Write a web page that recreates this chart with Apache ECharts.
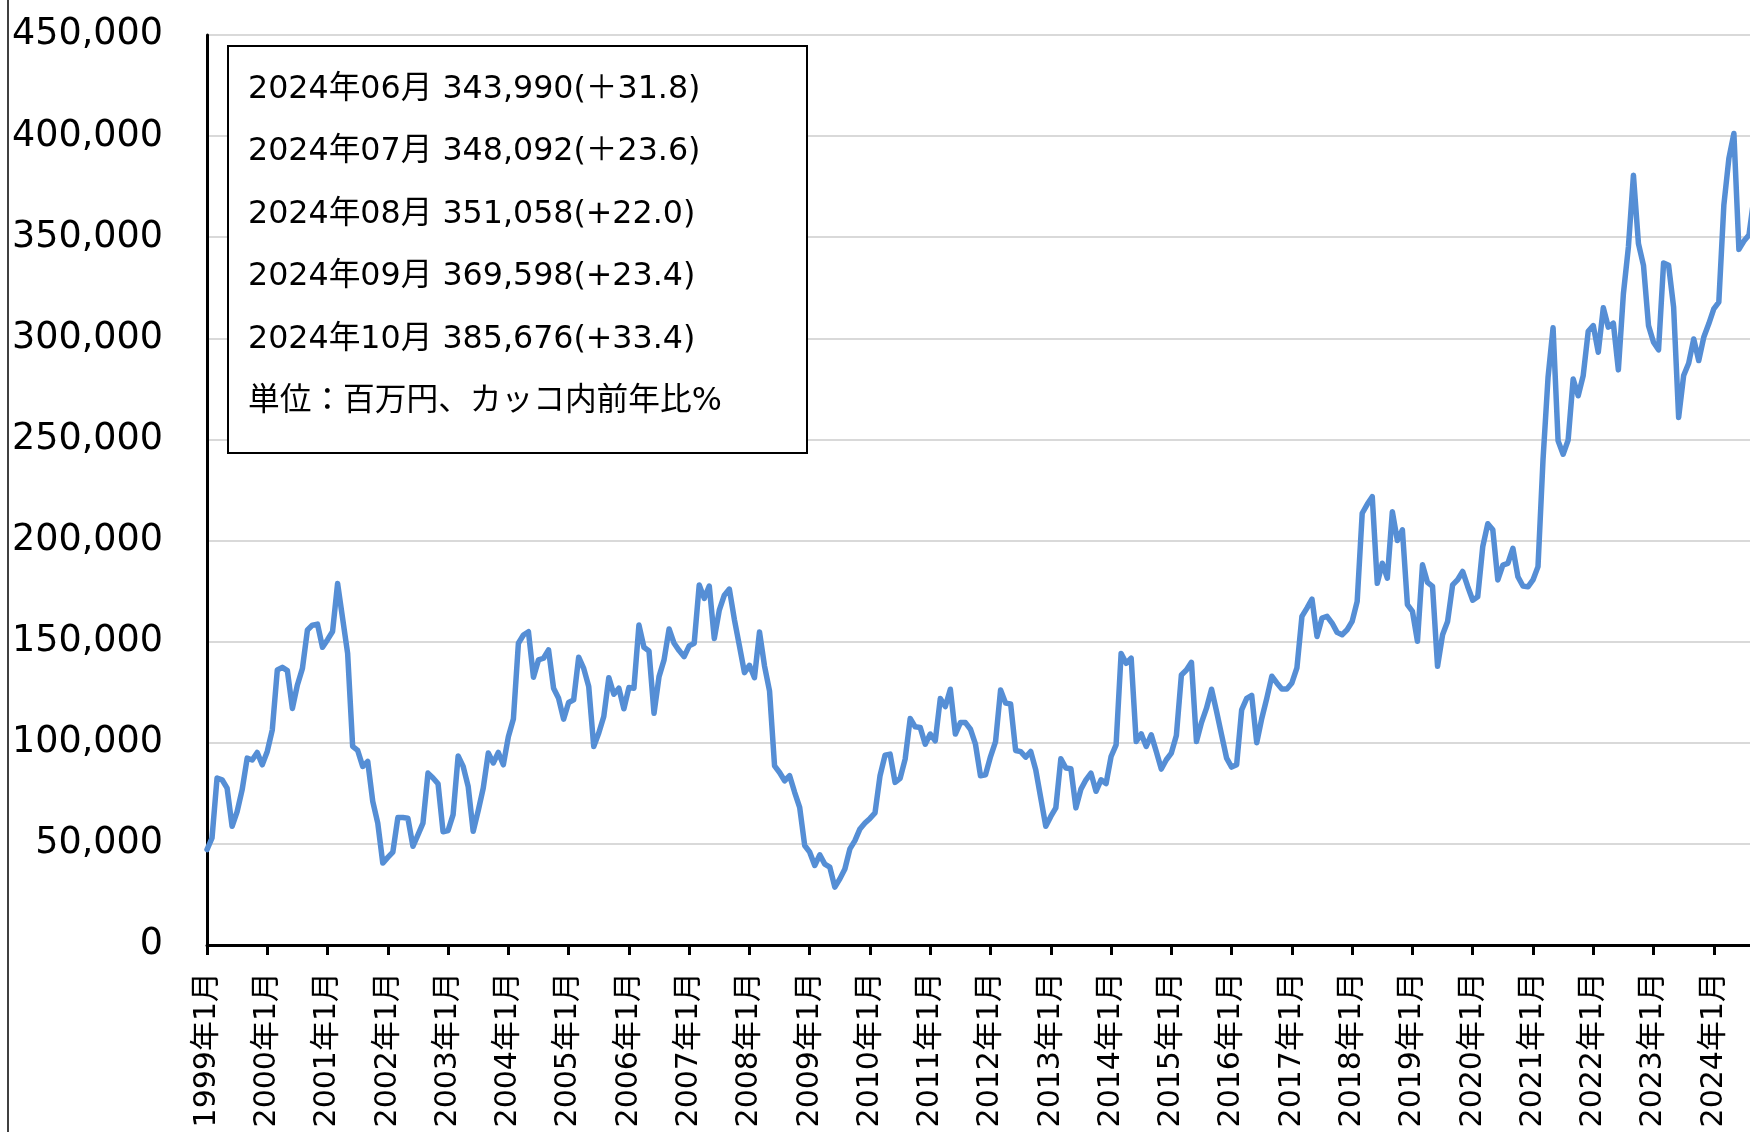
<!doctype html>
<html lang="ja">

<head>
    <meta charset="utf-8">
    <title>月次推移</title>
    <script src="https://cdn.jsdelivr.net/npm/echarts@6/dist/echarts.min.js"></script>
    <style type="text/css">
        html, body {
            margin: 0;
            padding: 0;
            background: #fff;
        }

        #chart_main {
            width: 1750px;
            height: 1132px;
        }
    </style>
</head>

<body>
    <div id="chart_main"></div>
    <script>
        // 月次の値 (百万円), 1999年1月 から 2024年10月 まで, 1行 = 1年
        let monthly_values = [
            47200, 52900, 82600, 81700, 77600, 58700, 66000, 76800, 92400, 91500, 95200, 89100,
            95700, 106400, 136000, 137300, 135700, 117000, 128600, 136800, 155800, 158200, 158700, 147200,
            151000, 155000, 178800, 161500, 144200, 98200, 96200, 88300, 90800, 71000, 60300, 40500,
            43300, 45900, 63000, 63000, 62700, 48800, 54500, 60300, 85000, 82600, 79700, 56000,
            56600, 64500, 93500, 88300, 78400, 56200, 66500, 77600, 94900, 90000, 95200, 89100,
            103000, 111700, 149200, 153300, 154900, 132400, 141000, 141800, 145900, 127000, 122000, 111700,
            119900, 121200, 142300, 136800, 127800, 98200, 104800, 113000, 132200, 124000, 127000, 116800,
            127300, 127000, 158200, 147200, 145400, 114600, 132700, 141000, 156300, 149200, 145600, 142600,
            147900, 149200, 178000, 171400, 177500, 151600, 165600, 173000, 176000, 161000, 148000, 134700,
            138300, 132200, 154800, 138000, 125600, 88600, 85300, 81200, 83700, 75500, 68100, 49200,
            45900, 39300, 44600, 40000, 38500, 28600, 32700, 37600, 47500, 51600, 57400, 60300,
            62600, 65300, 83700, 93900, 94400, 80400, 82400, 91900, 112000, 107900, 107600, 99300,
            104300, 101000, 121900, 117900, 126500, 104300, 110000, 110000, 106700, 99300, 83700, 84200,
            93200, 100600, 126100, 119600, 119200, 96200, 95600, 92900, 95700, 86700, 72700, 58700,
            63600, 67800, 92100, 87500, 87200, 67800, 77100, 81700, 85000, 76000, 81700, 79800,
            93200, 99000, 144200, 139300, 141800, 100600, 104400, 98200, 103900, 95700, 87000, 91600,
            94900, 103600, 133500, 136000, 139800, 100600, 110000, 117100, 126500, 115500, 103900, 92400,
            88000, 89100, 116300, 122000, 123400, 100000, 112000, 122000, 132900, 129600, 126600, 126600,
            129600, 137000, 162500, 166600, 171000, 152600, 161700, 162500, 159200, 154600, 153400, 155900,
            160000, 169900, 213500, 217900, 221700, 178900, 188800, 181400, 214300, 200000, 205300, 168300,
            165000, 150200, 188000, 179300, 177300, 137800, 153400, 160000, 178100, 180600, 184700, 177300,
            170500, 172200, 197000, 208300, 205300, 180500, 187900, 188700, 196200, 182100, 177500, 177100,
            180500, 187100, 240000, 280700, 305200, 249300, 242700, 249700, 279900, 271600, 281600, 303500,
            306300, 293100, 315100, 305500, 307500, 284400, 322000, 345200, 380700, 346800, 336100, 306300,
            298100, 294300, 337200, 336100, 315400, 260900, 281600, 287700, 299700, 289000, 300500, 307200,
            314600, 317900, 365800, 388900, 401300, 343990, 348092, 351058, 369598, 385676
        ];

        let first_year = 1999;
        let y_ticks = [0, 50000, 100000, 150000, 200000, 250000, 300000, 350000, 400000, 450000];

        let note_lines = [
            '2024年06月 343,990(＋31.8)',
            '2024年07月 348,092(＋23.6)',
            '2024年08月 351,058(+22.0)',
            '2024年09月 369,598(+23.4)',
            '2024年10月 385,676(+33.4)',
            '単位：百万円、カッコ内前年比%'
        ];

        let font_family = "'DejaVu Sans', 'Noto Sans CJK JP', sans-serif";

        function draw_chart() {
            let myChart = echarts.init(document.getElementById('chart_main'));

            let months = [];
            for (let i = 0; i < monthly_values.length; ++i) {
                let y = first_year + Math.floor(i / 12);
                let m = (i % 12) + 1;
                months.push(y + '年' + m + '月');
            }

            let graphics = [
                // 左端の枠線
                {
                    type: 'line',
                    shape: { x1: 8, y1: 0, x2: 8, y2: 1132 },
                    style: { stroke: '#404040', lineWidth: 2 },
                    z: 10
                },
                {
                    type: 'rect',
                    shape: { x: 228, y: 46, width: 579, height: 407 },
                    style: { fill: '#fff', stroke: '#000', lineWidth: 2 },
                    z: 10
                }
            ];
            for (let k = 0; k < note_lines.length; ++k) {
                graphics.push({
                    type: 'text',
                    x: 248,
                    y: 89.5 + k * 62.5,
                    style: {
                        text: note_lines[k],
                        fontSize: 31.7,
                        fontFamily: font_family,
                        fill: '#000',
                        verticalAlign: 'middle'
                    },
                    z: 11
                });
            }

            let option = {
                animation: false,
                backgroundColor: '#fff',
                grid: {
                    left: 207,
                    right: -9,
                    top: 35,
                    bottom: 187,
                    outerBoundsMode: 'none',
                    containLabel: false
                },
                xAxis: {
                    type: 'category',
                    data: months,
                    boundaryGap: false,
                    axisLine: { lineStyle: { color: '#000', width: 3 } },
                    axisTick: {
                        interval: 11,
                        length: 10,
                        lineStyle: { color: '#000', width: 3 }
                    },
                    axisLabel: {
                        interval: 11,
                        rotate: 90,
                        margin: 27,
                        color: '#000',
                        fontSize: 30,
                        fontFamily: font_family
                    },
                    splitLine: { show: false }
                },
                yAxis: {
                    type: 'value',
                    min: y_ticks[0],
                    max: y_ticks[y_ticks.length - 1],
                    interval: y_ticks[1] - y_ticks[0],
                    axisLine: { show: true, lineStyle: { color: '#000', width: 3 } },
                    axisTick: { show: false },
                    axisLabel: {
                        margin: 44,
                        color: '#000',
                        fontSize: 36.5,
                        fontFamily: font_family,
                        padding: [0, 0, 12, 0],
                        formatter: function (v) {
                            return v.toLocaleString('en-US');
                        }
                    },
                    splitLine: { lineStyle: { color: '#d9d9d9', width: 2 } }
                },
                series: [{
                    type: 'line',
                    data: monthly_values,
                    showSymbol: false,
                    lineStyle: { color: '#558ed5', width: 5.5, join: 'round', cap: 'round' },
                    itemStyle: { color: '#558ed5' }
                }],
                graphic: graphics
            };
            myChart.setOption(option, true);
        }

        draw_chart();
    </script>
</body>

</html>
